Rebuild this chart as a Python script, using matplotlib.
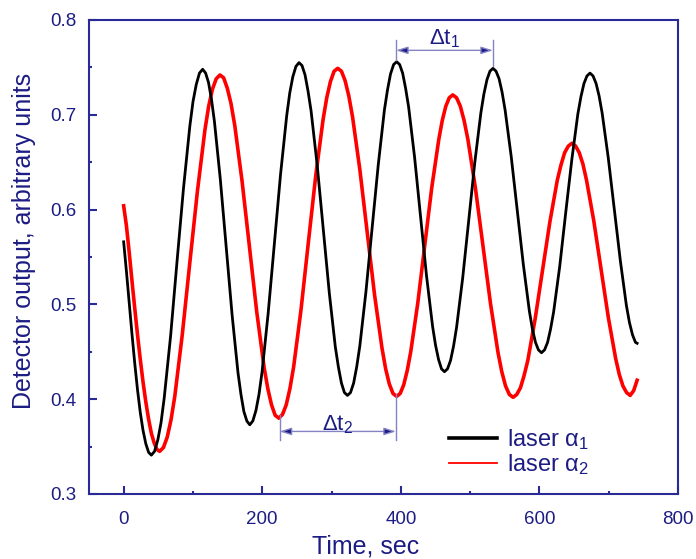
import matplotlib
matplotlib.use("Agg")
import matplotlib.pyplot as plt
from matplotlib.ticker import MultipleLocator

plt.rcParams['font.family'] = ['Liberation Sans', 'DejaVu Sans']
plt.rcParams['mathtext.fontset'] = 'custom'
plt.rcParams['mathtext.rm'] = 'Liberation Sans'
plt.rcParams['mathtext.it'] = 'Liberation Sans:italic'

# ---- data ----
black_t = [0, 4, 8, 12, 16, 20, 24, 28, 32, 36,
           40, 44.6, 49.3, 53.9, 58.5, 67.8, 77, 86.3, 95.5, 100.1, 104.8, 109.4,
           114, 118.3, 122.5, 126.8, 131, 139.5, 148, 156.5, 165, 169.3, 173.5, 177.8,
           182, 186.4, 190.9, 195.3, 199.8, 208.6, 217.5, 226.4, 235.3, 239.7, 244.1, 248.6,
           253, 257.4, 261.8, 266.1, 270.5, 279.3, 288, 296.8, 305.5, 309.9, 314.3, 318.6,
           323, 327.4, 331.9, 336.3, 340.8, 349.6, 358.5, 367.4, 376.3, 380.7, 385.1, 389.6,
           394, 398.3, 402.6, 406.9, 411.3, 419.9, 428.5, 437.1, 445.8, 450.1, 454.4, 458.7,
           463, 467.4, 471.8, 476.1, 480.5, 489.3, 498, 506.8, 515.5, 519.9, 524.3, 528.6,
           533, 537.4, 541.8, 546.1, 550.5, 559.3, 568, 576.8, 585.5, 589.9, 594.3, 598.6,
           603, 607.4, 611.8, 616.1, 620.5, 629.3, 638, 646.8, 655.5, 659.9, 664.3, 668.6,
           673, 677.4, 681.8, 686.1, 690.5, 699.3, 708, 716.8, 725.5, 729.9, 734.3, 738.6, 741]
black_v = [0.566, 0.535, 0.502, 0.469, 0.438, 0.410, 0.386, 0.367, 0.353, 0.344,
           0.341, 0.345, 0.357, 0.375, 0.401, 0.467, 0.545, 0.622, 0.688, 0.714, 0.732, 0.744,
           0.748, 0.744, 0.734, 0.716, 0.693, 0.632, 0.561, 0.489, 0.428, 0.405, 0.387, 0.377,
           0.373, 0.377, 0.388, 0.405, 0.429, 0.491, 0.564, 0.637, 0.699, 0.723, 0.740, 0.751,
           0.755, 0.752, 0.742, 0.725, 0.704, 0.647, 0.580, 0.512, 0.455, 0.434, 0.417, 0.407,
           0.404, 0.407, 0.417, 0.434, 0.456, 0.513, 0.580, 0.647, 0.705, 0.726, 0.743, 0.753,
           0.756, 0.753, 0.744, 0.728, 0.708, 0.655, 0.593, 0.530, 0.477, 0.457, 0.442, 0.432,
           0.429, 0.432, 0.441, 0.456, 0.476, 0.528, 0.589, 0.650, 0.702, 0.722, 0.737, 0.746,
           0.749, 0.746, 0.738, 0.724, 0.705, 0.656, 0.599, 0.542, 0.493, 0.474, 0.460, 0.452,
           0.449, 0.452, 0.460, 0.474, 0.492, 0.540, 0.597, 0.653, 0.701, 0.719, 0.733, 0.741,
           0.744, 0.741, 0.733, 0.720, 0.702, 0.655, 0.601, 0.546, 0.499, 0.481, 0.468, 0.460, 0.459]

red_t = [0, 4, 8, 12, 16, 20, 24, 28, 32, 36, 40, 44, 48,
         52, 57.4, 62.9, 68.3, 73.8, 84.6, 95.5, 106.4, 117.3, 122.7, 128.1, 133.6,
         139, 144.3, 149.6, 154.9, 160.3, 170.9, 181.5, 192.1, 202.8, 208.1, 213.4, 218.7,
         224, 229.3, 234.6, 239.9, 245.3, 255.9, 266.5, 277.1, 287.8, 293.1, 298.4, 303.7,
         309, 314.3, 319.6, 324.9, 330.3, 340.9, 351.5, 362.1, 372.8, 378.1, 383.4, 388.7,
         394, 399.1, 404.1, 409.2, 414.3, 424.4, 434.5, 444.6, 454.8, 459.8, 464.9, 469.9,
         475, 480.4, 485.9, 491.3, 496.8, 507.6, 518.5, 529.4, 540.3, 545.7, 551.1, 556.6,
         562, 567.3, 572.6, 577.9, 583.3, 593.9, 604.5, 615.1, 625.8, 631.1, 636.4, 641.7,
         647, 652.3, 657.5, 662.8, 668, 678.5, 689, 699.5, 710, 715.3, 720.5, 725.8,
         731, 736, 741]
red_v = [0.604, 0.583, 0.555, 0.525, 0.496, 0.468, 0.442, 0.418, 0.397, 0.379, 0.364, 0.354, 0.347,
         0.345, 0.349, 0.360, 0.378, 0.403, 0.468, 0.544, 0.619, 0.684, 0.709, 0.727, 0.738,
         0.742, 0.739, 0.728, 0.712, 0.689, 0.630, 0.561, 0.492, 0.433, 0.411, 0.394, 0.383,
         0.380, 0.384, 0.394, 0.411, 0.434, 0.494, 0.565, 0.635, 0.695, 0.718, 0.735, 0.746,
         0.749, 0.746, 0.736, 0.720, 0.698, 0.642, 0.576, 0.510, 0.454, 0.432, 0.416, 0.406,
         0.403, 0.406, 0.415, 0.430, 0.450, 0.501, 0.562, 0.623, 0.674, 0.694, 0.709, 0.718,
         0.721, 0.718, 0.709, 0.694, 0.674, 0.623, 0.562, 0.501, 0.449, 0.429, 0.414, 0.405,
         0.402, 0.405, 0.412, 0.425, 0.441, 0.485, 0.536, 0.587, 0.631, 0.647, 0.660, 0.667,
         0.670, 0.667, 0.660, 0.648, 0.631, 0.588, 0.537, 0.486, 0.443, 0.426, 0.414, 0.407,
         0.404, 0.409, 0.420]

labels = ['laser α$_{\\mathregular{1}}$', 'laser α$_{\\mathregular{2}}$']
dt1_span = [393, 533]   # peaks marked by Δt1
dt2_span = [225, 393]   # minima marked by Δt2

# ---- style ----
NAVY = '#1c1c84'
SPINE = '#2a2a96'
GUIDE = '#8484c4'

fig = plt.figure(figsize=(6.96, 5.59), dpi=100)
ax = fig.add_axes([89/696, 1-494/559, (678-89)/696, (494-20)/559])

ax.plot(black_t, black_v, color='black', lw=2.0, label=labels[0], zorder=3,
        solid_joinstyle='round')
ax.plot(red_t, red_v, color='#ff0000', lw=2.6, label=labels[1], zorder=2,
        solid_joinstyle='round')

ax.set_xlim(-50, 800)
ax.set_ylim(0.3, 0.8)
ax.xaxis.set_major_locator(MultipleLocator(200))
ax.xaxis.set_minor_locator(MultipleLocator(100))
ax.yaxis.set_minor_locator(MultipleLocator(0.05))
ax.set_yticks([0.3, 0.4, 0.5, 0.6, 0.7, 0.8])
ax.set_yticklabels(['0.3', '0.4', '0.5', '0.6', '0.7', '0.8'])

for s in ax.spines.values():
    s.set_color(SPINE)
    s.set_linewidth(1.5)
ax.tick_params(which='both', direction='in', top=False, right=False,
               color=SPINE, labelcolor=NAVY, labelsize=13.5, width=1.5)
ax.tick_params(which='major', length=5.5)
ax.tick_params(which='minor', length=2.5)
ax.tick_params(axis='x', which='major', pad=12.5)
ax.tick_params(axis='y', which='major', pad=9)

ax.set_xlabel('Time, sec', fontsize=18, color=NAVY)
ax.xaxis.set_label_coords(0.47, -0.085)
ax.set_ylabel('Detector output, arbitrary units', fontsize=18, color=NAVY)
ax.yaxis.set_label_coords(-0.09, 0.534)

# Δt annotations
def span_arrow(x0, x1, y, y0a, y0b, y1a, y1b, text, ty):
    ax.plot([x0, x0], [y0a, y0b], color=GUIDE, lw=1.0, zorder=4)
    ax.plot([x1, x1], [y1a, y1b], color=GUIDE, lw=1.0, zorder=4)
    ax.annotate('', xy=(x0, y), xytext=(x1, y),
                arrowprops=dict(arrowstyle='<|-|>,head_length=0.7,head_width=0.22',
                                ec=GUIDE, fc=NAVY, lw=1.0, shrinkA=0, shrinkB=0),
                zorder=4)
    ax.text((x0 + x1) / 2, ty, text, ha='center', va='center',
            fontsize=16, color=NAVY, zorder=5)

span_arrow(dt1_span[0], dt1_span[1], 0.768, 0.779, 0.758, 0.779, 0.752,
           'Δt$_{\\mathregular{1}}$', 0.780)
span_arrow(dt2_span[0], dt2_span[1], 0.366, 0.383, 0.357, 0.405, 0.357,
           'Δt$_{\\mathregular{2}}$', 0.373)

leg = ax.legend(loc='lower left', bbox_to_anchor=(0.595, 0.016), frameon=False,
                fontsize=17, handlelength=2.05, handletextpad=0.4,
                labelspacing=0.0, borderaxespad=0)
for txt in leg.get_texts():
    txt.set_color(NAVY)
leg.get_lines()[0].set_linewidth(2.6)
leg.get_lines()[1].set_linewidth(1.3)

fig.savefig('out.png', dpi=100)
